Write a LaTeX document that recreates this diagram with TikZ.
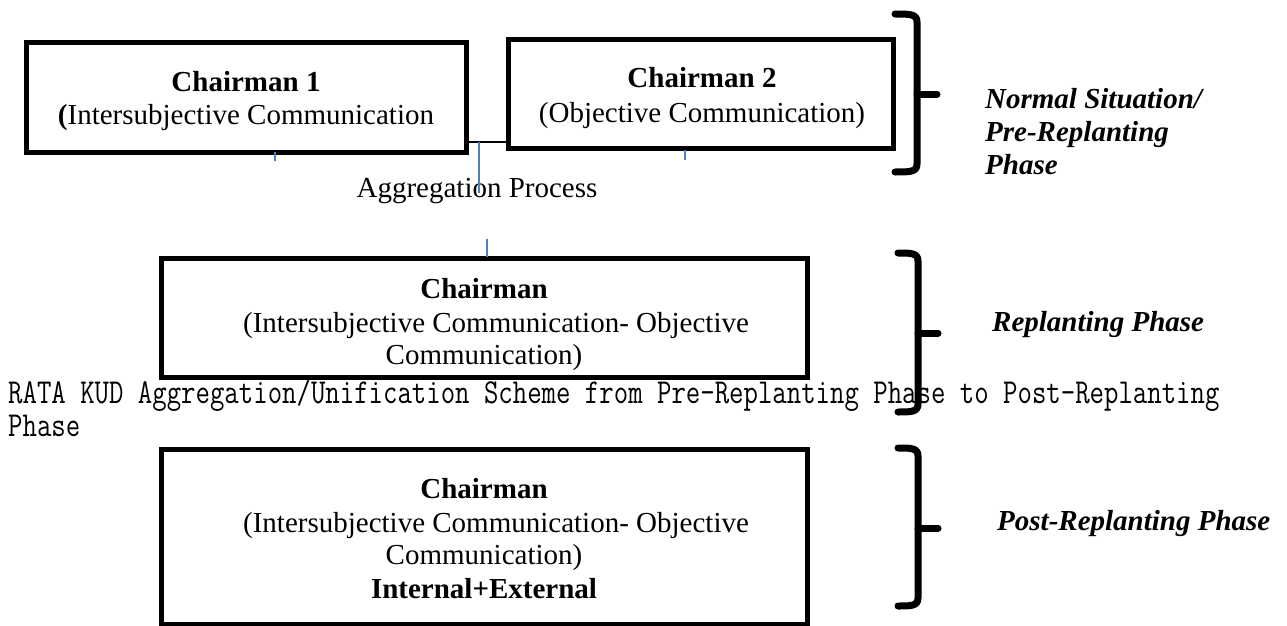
\documentclass[tikz,border=0pt]{standalone}
\usepackage{fontspec}
\setmainfont{Liberation Serif}
\setmonofont{Latin Modern Mono}
\begin{document}
\begin{tikzpicture}[x=1pt,y=-1pt,
  box/.style={draw=black, line width=5pt, inner sep=0pt},
  txt/.style={font=\fontsize{29}{33}\selectfont, anchor=base, inner sep=0pt},
  btxt/.style={font=\fontsize{29}{33}\selectfont\bfseries, anchor=base, inner sep=0pt},
  phase/.style={font=\fontsize{29}{33}\selectfont\bfseries\itshape, anchor=base west, inner sep=0pt, align=left},
  brk/.style={line width=7pt, line cap=round, line join=round},
  blue/.style={draw={rgb,255:red,79;green,129;blue,189}, line width=1.5pt}]
\useasboundingbox (0,0) rectangle (1287,626);
% boxes
\node[box, minimum width=440pt, minimum height=109pt] (b1) at (246,97.5) {};
\node[box, minimum width=385pt, minimum height=108pt] (b2) at (700.5,94) {};
\node[box, minimum width=646pt, minimum height=119pt] (b3) at (484,317.5) {};
\node[box, minimum width=646pt, minimum height=175pt] (b4) at (484,536.5) {};
% texts
\node[btxt] (t1a) at (246,91) {Chairman 1};
\node[txt] (t1b) at (246,124) {\textbf{(}Intersubjective Communication};
\node[btxt] (t2a) at (702,88) {Chairman 2};
\node[txt] (t2b) at (702,122) {(Objective Communication)};
\node[btxt] (t3a) at (484,298) {Chairman};
\node[txt] (t3b) at (496,332) {(Intersubjective Communication- Objective};
\node[txt] (t3c) at (484,364) {Communication)};
\node[btxt] (t4a) at (484,498) {Chairman};
\node[txt] (t4b) at (496,532) {(Intersubjective Communication- Objective};
\node[txt] (t4c) at (484,564) {Communication)};
\node[btxt] (t4d) at (484,598) {Internal+External};
\node[txt] (agg) at (477,197) {Aggregation Process};
% connectors
\draw[line width=2pt] (b1.east |- 0,142) coordinate (c1) -- (b2.west |- 0,142) coordinate (c2);
\coordinate (m1) at (479,142);
\coordinate (m2) at (479,193);
\draw[blue] (m1) -- (m2);
\coordinate (k1) at (275,152); \coordinate (k2) at (275,161);
\draw[blue] (k1) -- (k2);
\coordinate (k3) at (685,150); \coordinate (k4) at (685,160);
\draw[blue] (k3) -- (k4);
\coordinate (k5) at (487,239); \coordinate (k6) at (487,257);
\draw[blue] (k5) -- (k6);
% brackets
\draw[brk] (895,14) .. controls (910,14) and (917,14) .. (917,22) -- (917,164) .. controls (917,172) and (910,172) .. (895,172);
\draw[brk] (917,94) -- (937,94);
\draw[brk] (898,253) .. controls (911,253) and (918,253) .. (918,261) -- (918,404) .. controls (918,412) and (911,412) .. (898,412);
\draw[brk] (918,333) -- (938,333);
\draw[brk] (898,448) .. controls (911,448) and (918,448) .. (918,456) -- (918,598) .. controls (918,606) and (911,606) .. (898,606);
\draw[brk] (918,528) -- (938,528);
% phase labels
\node[phase] (p1) at (985,174) {Normal Situation/\\Pre-Replanting\\Phase};
\node[phase] (p2) at (992,331) {Replanting Phase};
\node[phase] (p3) at (997,530) {Post-Replanting Phase};
% caption
\node[anchor=base west, inner sep=0pt] (cap) at (8,403) {\scalebox{0.80}[1]{\fontsize{35}{32}\selectfont\ttfamily\begin{tabular}[t]{@{}l@{}}RATA KUD Aggregation/Unification Scheme from Pre-Replanting Phase to Post-Replanting\\[1pt] Phase\end{tabular}}};
\end{tikzpicture}
\end{document}
